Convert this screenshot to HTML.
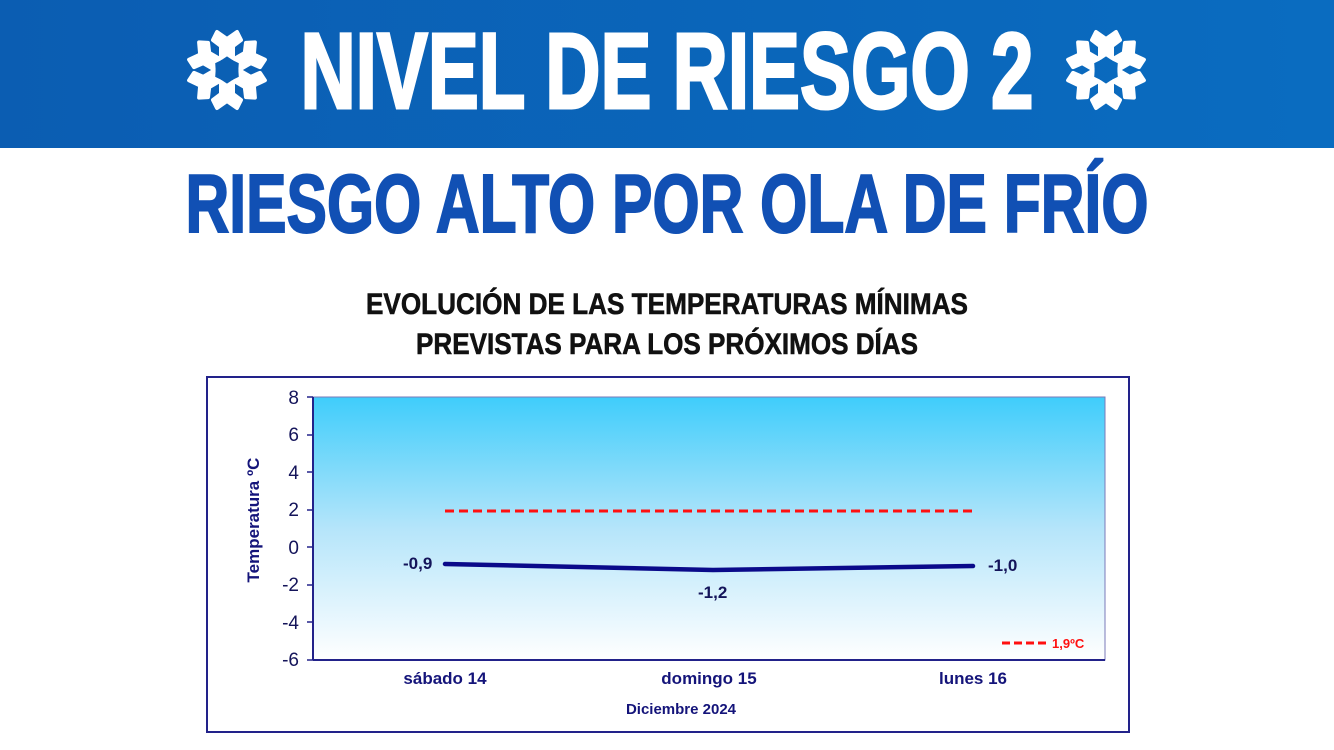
<!DOCTYPE html>
<html><head><meta charset="utf-8"><style>
html,body{margin:0;padding:0;background:#fff;width:1334px;height:750px;overflow:hidden}
</style></head><body>
<svg width="1334" height="750" viewBox="0 0 1334 750" xmlns="http://www.w3.org/2000/svg" font-family="Liberation Sans, sans-serif">
<defs>
<linearGradient id="hd" x1="0" y1="0" x2="1" y2="0"><stop offset="0" stop-color="#0b5db2"/><stop offset="1" stop-color="#0a6cc0"/></linearGradient>
<linearGradient id="pl" x1="0" y1="0" x2="0" y2="1"><stop offset="0" stop-color="#3fcdfb"/><stop offset="0.5" stop-color="#b5e5fa"/><stop offset="1" stop-color="#ffffff"/></linearGradient>
<g id="sf">
<g id="arm"><path d="M-6,-12 L0,-16 L6,-12 L6,-24 L14,-30 L10,-38 L0,-31 L-10,-38 L-14,-30 L-6,-24 Z" fill="#fff" stroke="#fff" stroke-width="4" stroke-linejoin="round"/></g>
<use href="#arm" transform="rotate(60)"/><use href="#arm" transform="rotate(120)"/><use href="#arm" transform="rotate(180)"/><use href="#arm" transform="rotate(240)"/><use href="#arm" transform="rotate(300)"/>
</g>
</defs>
<rect x="0" y="0" width="1334" height="148" fill="url(#hd)"/>
<use href="#sf" transform="translate(227,70)"/>
<use href="#sf" transform="translate(1106,70)"/>
<text x="667" y="108" text-anchor="middle" font-size="108" font-weight="bold" fill="#fff" stroke="#fff" stroke-width="3" textLength="733" lengthAdjust="spacingAndGlyphs">NIVEL DE RIESGO 2</text>
<text x="667" y="232" text-anchor="middle" font-size="83" font-weight="bold" fill="#1150b4" stroke="#1150b4" stroke-width="2" textLength="963" lengthAdjust="spacingAndGlyphs">RIESGO ALTO POR OLA DE FRÍO</text>
<text x="667" y="314" text-anchor="middle" font-size="30" font-weight="bold" fill="#111" stroke="#111" stroke-width="0.6" textLength="602" lengthAdjust="spacingAndGlyphs">EVOLUCIÓN DE LAS TEMPERATURAS MÍNIMAS</text>
<text x="667" y="354" text-anchor="middle" font-size="30" font-weight="bold" fill="#111" stroke="#111" stroke-width="0.6" textLength="502" lengthAdjust="spacingAndGlyphs">PREVISTAS PARA LOS PRÓXIMOS DÍAS</text>
<rect x="207" y="377" width="922" height="355" fill="#fff" stroke="#22228a" stroke-width="2"/>
<rect x="313" y="397" width="792" height="263" fill="url(#pl)" stroke="#7a7ab8" stroke-width="1"/>
<line x1="313" y1="397" x2="313" y2="660" stroke="#22228a" stroke-width="2"/>
<line x1="313" y1="660" x2="1105" y2="660" stroke="#22228a" stroke-width="2"/>
<g font-size="19" fill="#14145a" text-anchor="end">
<text x="299" y="404">8</text><text x="299" y="441">6</text><text x="299" y="479">4</text><text x="299" y="516">2</text><text x="299" y="554">0</text><text x="299" y="591">-2</text><text x="299" y="629">-4</text><text x="299" y="666">-6</text>
</g>
<g stroke="#22228a" stroke-width="1.5">
<line x1="307" y1="397" x2="313" y2="397"/><line x1="307" y1="435" x2="313" y2="435"/><line x1="307" y1="472" x2="313" y2="472"/><line x1="307" y1="510" x2="313" y2="510"/><line x1="307" y1="547" x2="313" y2="547"/><line x1="307" y1="585" x2="313" y2="585"/><line x1="307" y1="622" x2="313" y2="622"/><line x1="307" y1="660" x2="313" y2="660"/>
</g>
<text transform="translate(259,520) rotate(-90)" text-anchor="middle" font-size="17" font-weight="bold" fill="#14147a">Temperatura ºC</text>
<line x1="445" y1="511" x2="973" y2="511" stroke="#ff1010" stroke-width="3" stroke-dasharray="9,5"/>
<polyline points="445,564 713,570 973,566" fill="none" stroke="#0a0a8a" stroke-width="4.5" stroke-linecap="round"/>
<g font-size="17" font-weight="bold" fill="#14145a">
<text x="403" y="569">-0,9</text><text x="698" y="598">-1,2</text><text x="988" y="571">-1,0</text>
</g>
<line x1="1002" y1="643" x2="1047" y2="643" stroke="#ff1010" stroke-width="3" stroke-dasharray="8,4"/>
<text x="1052" y="648" font-size="13" font-weight="bold" fill="#ff1010">1,9ºC</text>
<g font-size="17" font-weight="bold" fill="#14147a" text-anchor="middle">
<text x="445" y="684">sábado 14</text><text x="709" y="684">domingo 15</text><text x="973" y="684">lunes 16</text>
</g>
<text x="681" y="714" text-anchor="middle" font-size="15" font-weight="bold" fill="#14147a">Diciembre  2024</text>
</svg>
</body></html>
